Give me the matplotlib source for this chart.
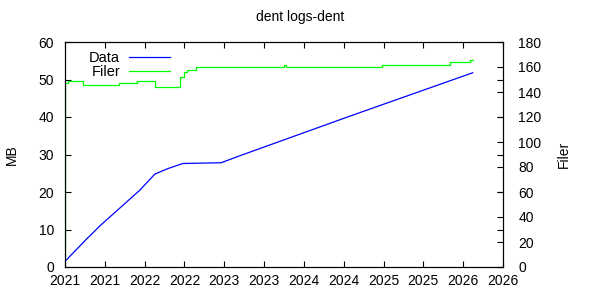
import matplotlib
matplotlib.use("Agg")
import matplotlib.pyplot as plt
from matplotlib.ticker import FixedLocator, FuncFormatter

plt.rcParams['font.family'] = ['Liberation Sans', 'DejaVu Sans']
plt.rcParams['font.size'] = 10

# Data (MB) series, x in fractional years
data_years = [2021.0, 2021.25, 2021.44, 2021.94, 2022.13, 2022.30, 2022.48, 2022.96, 2023.2, 2024.6, 2026.12]
data_mb    = [1.5,    7.0,     11.0,    20.5,    24.8,    26.3,    27.6,    27.8,    29.7,   40.4,   51.8]

# Filer (file count) series, step values
filer_years = [2021.0, 2021.005, 2021.04, 2021.23, 2021.68, 2021.91, 2022.13, 2022.44, 2022.50, 2022.53,
               2022.65, 2023.75, 2023.78, 2024.98, 2025.84, 2026.09, 2026.12]
filer_count = [0,      147,      149,     146,     147,     149,     144,     152,     156,     158,
               160,    162,      160,     162,     164,     166,     166]

xtick_vals = [2021.0 + 0.5 * k for k in range(12)]

fig = plt.figure(figsize=(6, 3), dpi=100)
ax = fig.add_axes([65/600, 1 - 267/300, 438/600, 225/300])
ax2 = ax.twinx()

l1, = ax.plot(data_years, data_mb, color='#0000ff', lw=0.9, label='Data')
l2, = ax2.step(filer_years, filer_count, where='post', color='#00ff00', lw=0.9, label='Filer')

ax.set_xlim(2021.0, 2026.5)
ax.set_ylim(0, 60)
ax2.set_ylim(0, 180)

ax.xaxis.set_major_locator(FixedLocator(xtick_vals))
ax.xaxis.set_major_formatter(FuncFormatter(lambda v, p: str(int(v + 1e-6))))
ax.set_yticks(range(0, 61, 10))
ax2.set_yticks(range(0, 181, 20))

ax.tick_params(axis='x', direction='in', length=4, pad=5, top=True, labelsize=10)
ax.tick_params(axis='y', direction='in', length=4, pad=8, right=True, labelsize=10)
ax2.tick_params(axis='y', direction='in', length=4, pad=11, labelsize=10)

for a in (ax, ax2):
    for s in a.spines.values():
        s.set_linewidth(0.8)

ax.set_ylabel('MB', fontsize=10, labelpad=14)
ax2.set_ylabel('Filer', fontsize=10, labelpad=11)
fig.text(0.5, 1 - 17/300, 'dent logs-dent', ha='center', va='center', fontsize=10)

leg = ax.legend([l1, l2], ['Data', 'Filer'], loc='upper left', bbox_to_anchor=(0.025, 1.02),
                frameon=False, markerfirst=False, handlelength=2.8, handletextpad=0.6,
                labelspacing=0.05, fontsize=10.5)
for t in leg.get_texts():
    t.set_ha('right')

fig.savefig('out.png', dpi=100)
